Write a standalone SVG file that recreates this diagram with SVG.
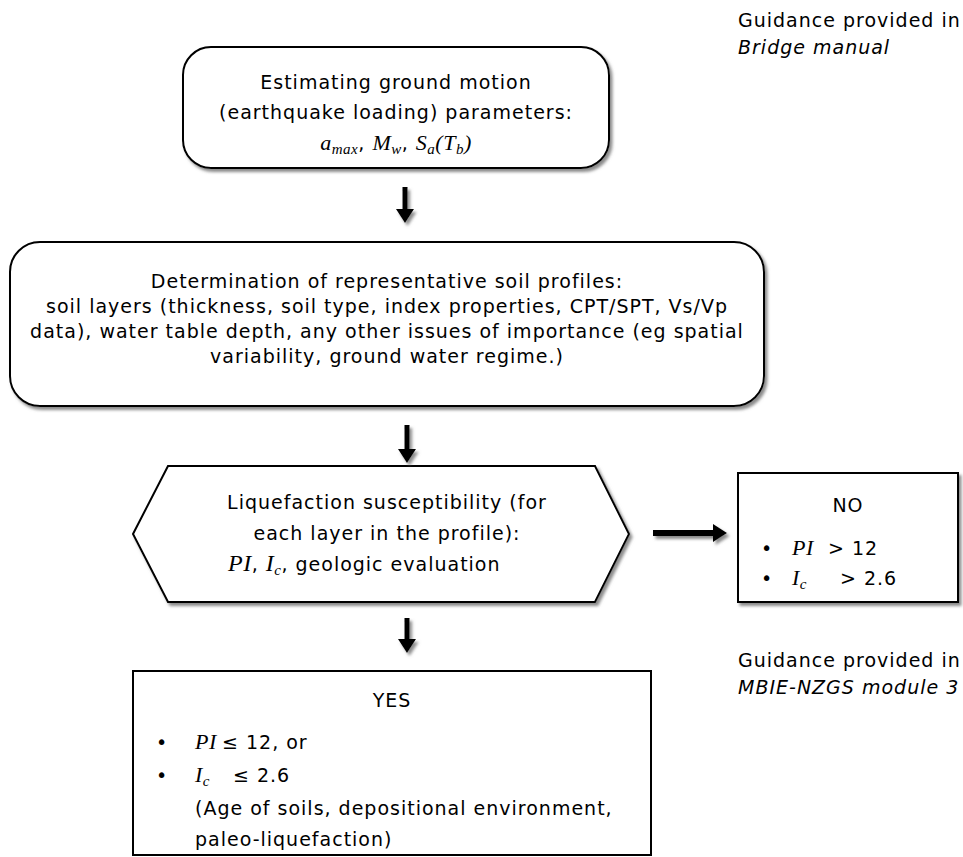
<svg xmlns="http://www.w3.org/2000/svg" width="963" height="857" viewBox="0 0 963 857">
<defs>
<filter id="sh" x="-5%" y="-5%" width="115%" height="125%">
<feDropShadow dx="2.5" dy="3" stdDeviation="1.5" flood-color="#6e6e6e" flood-opacity="0.8"/>
</filter>
</defs>
<style>
.t{font-family:"DejaVu Sans","Liberation Sans",sans-serif;font-size:19px;letter-spacing:1px;fill:#000}
.c{text-anchor:middle}
.i{font-style:italic}
.m{font-family:"Liberation Serif","DejaVu Serif",serif;font-style:italic;font-size:22px;letter-spacing:0.5px}
.s{font-size:15px}
.box{fill:#fff;stroke:#000;stroke-width:2}
.arr{fill:#000}
</style>
<rect width="963" height="857" fill="#fff"/>

<g id="note-bridge">
<text class="t" x="738" y="27">Guidance provided in</text>
<text class="t i" x="738" y="54">Bridge manual</text>
</g>

<g id="ground-motion">
<rect class="box" x="183" y="47" width="426" height="121" rx="28" filter="url(#sh)"/>
<text class="t c" x="396" y="89">Estimating ground motion</text>
<text class="t c" x="396" y="119">(earthquake loading) parameters:</text>
<text class="t c" x="396" y="150"><tspan class="m">a</tspan><tspan class="m s" dy="4">max</tspan><tspan dy="-4">, </tspan><tspan class="m">M</tspan><tspan class="m s" dy="4">w</tspan><tspan dy="-4">, </tspan><tspan class="m">S</tspan><tspan class="m s" dy="4">a</tspan><tspan class="m" dy="-4">(T</tspan><tspan class="m s" dy="4">b</tspan><tspan class="m" dy="-4">)</tspan></text>
</g>

<g id="soil-profiles">
<rect class="box" x="10" y="242" width="754" height="164" rx="30" filter="url(#sh)"/>
<text class="t c" x="387" y="288">Determination of representative soil profiles:</text>
<text class="t c" x="387" y="313">soil layers (thickness, soil type, index properties, CPT/SPT, Vs/Vp</text>
<text class="t c" x="387" y="338">data), water table depth, any other issues of importance (eg spatial</text>
<text class="t c" x="387" y="363">variability, ground water regime.)</text>
</g>

<g id="susceptibility">
<polygon class="box" points="133,534 168,466 595,466 629,534 595,602 168,602" filter="url(#sh)"/>
<text class="t c" x="387" y="509">Liquefaction susceptibility (for</text>
<text class="t c" x="387" y="540">each layer in the profile):</text>
<text class="t" x="228" y="571"><tspan class="m" style="font-size:24px">PI</tspan><tspan>, </tspan><tspan class="m" style="font-size:24px">I</tspan><tspan class="m s" dy="4">c</tspan><tspan dy="-4">, geologic evaluation</tspan></text>
</g>

<g id="no-box">
<rect class="box" x="738" y="473" width="220" height="129" filter="url(#sh)"/>
<text class="t c" x="848" y="512">NO</text>
<text class="t c" x="767" y="555">•</text>
<text class="t" x="792" y="555"><tspan class="m">PI</tspan></text>
<text class="t" x="828" y="555">&gt; 12</text>
<text class="t c" x="767" y="585">•</text>
<text class="t" x="792" y="585"><tspan class="m">I</tspan><tspan class="m s" dy="4">c</tspan></text>
<text class="t" x="840" y="585">&gt; 2.6</text>
</g>

<g id="note-mbie">
<text class="t" x="738" y="667">Guidance provided in</text>
<text class="t i" x="738" y="694">MBIE-NZGS module 3</text>
</g>

<g id="yes-box">
<rect class="box" x="133" y="671" width="518" height="184"/>
<text class="t c" x="392" y="707">YES</text>
<text class="t c" x="162" y="749">•</text>
<text class="t" x="195" y="749"><tspan class="m">PI</tspan></text>
<text class="t" x="222" y="749">≤ 12, or</text>
<text class="t c" x="162" y="782">•</text>
<text class="t" x="195" y="782"><tspan class="m">I</tspan><tspan class="m s" dy="4">c</tspan></text>
<text class="t" x="233" y="782">≤ 2.6</text>
<text class="t" x="195" y="815">(Age of soils, depositional environment,</text>
<text class="t" x="195" y="846">paleo-liquefaction)</text>
</g>

<g id="connectors" filter="url(#sh)">
<path class="arr" d="M402.5 187 H407.5 V209 H414 L405 223 L396 209 H402.5 Z"/>
<path class="arr" d="M404.5 425 H409.5 V449 H416 L407 463 L398 449 H404.5 Z"/>
<path class="arr" d="M404.5 618 H409.5 V639 H416 L407 653 L398 639 H404.5 Z"/>
<path class="arr" d="M653 530 H713 V524 L727 533 L713 542 V536 H653 Z"/>
</g>
</svg>
